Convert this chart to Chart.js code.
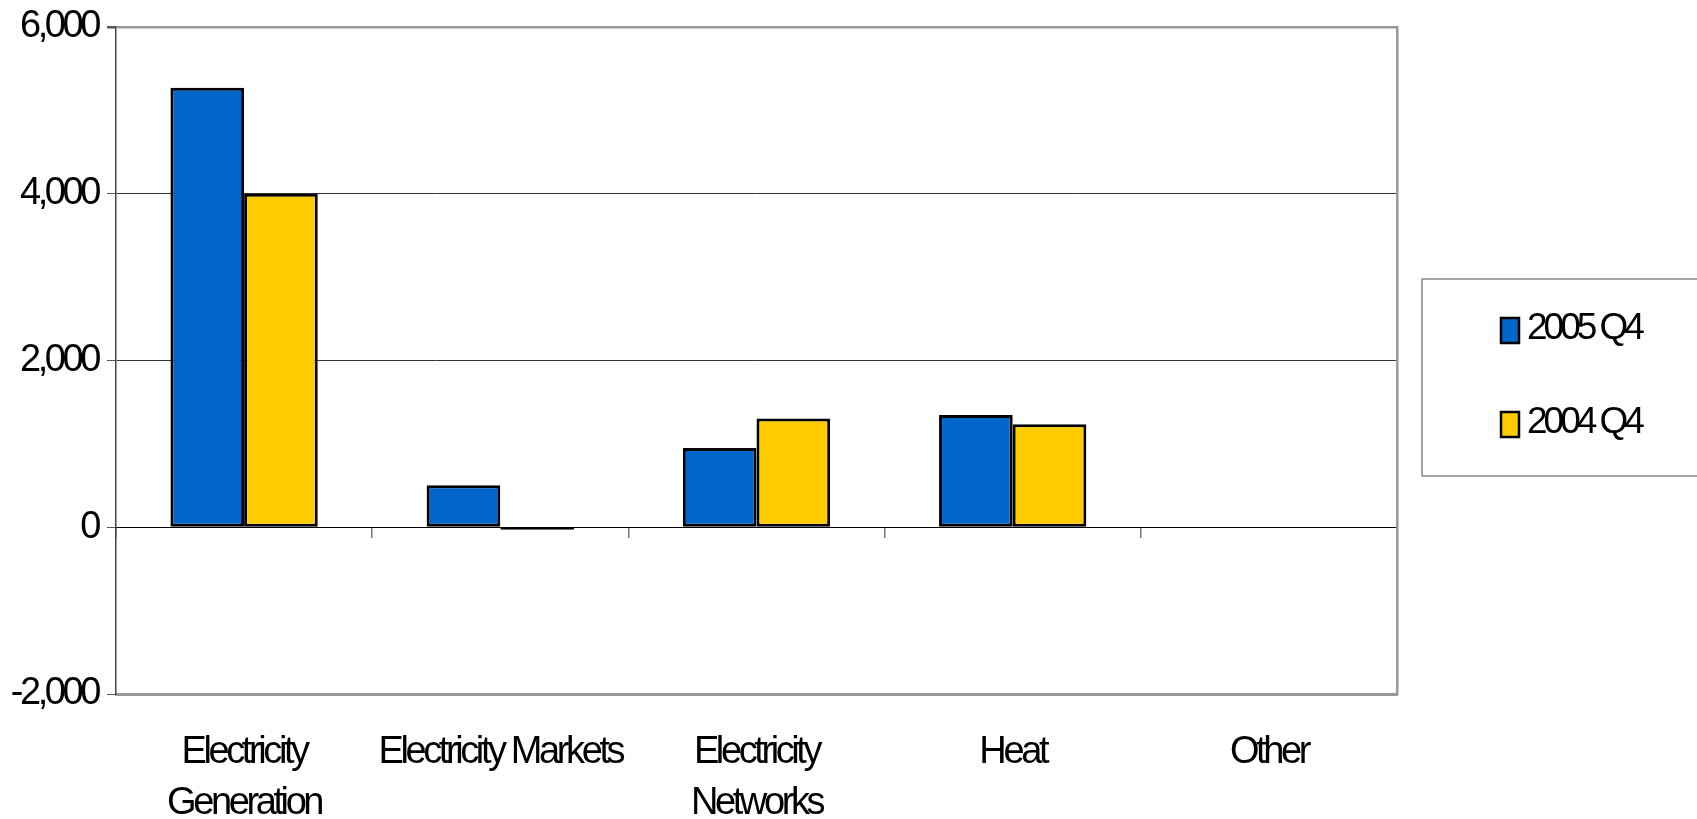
<!DOCTYPE html>
<html>
<head>
<meta charset="utf-8">
<script src="https://cdn.jsdelivr.net/npm/chart.js@4.4.1/dist/chart.umd.min.js"></script>
<style>
  html, body { margin: 0; padding: 0; background: #fff; }
  #wrap { width: 1697px; height: 819px; position: relative; }
</style>
</head>
<body>
<div id="wrap"><canvas id="c"></canvas></div>
<script>
// Business segments on the category axis
const categories = [
  ['Electricity', 'Generation'],
  'Electricity Markets',
  ['Electricity', 'Networks'],
  'Heat',
  'Other'
];
// Quarterly values per segment
const series2005Q4 = [5270, 505, 950, 1345, null];
const series2004Q4 = [4000, -30, 1305, 1235, null];
const seriesNames = ['2005 Q4', '2004 Q4'];
// Value axis ticks
const yTicks = [-2000, 0, 2000, 4000, 6000];

const FONT = 'Liberation Sans, Arial, sans-serif';
const SPACING = '-3.4px';
const BLUE = '#0066CC';
const GOLD = '#FFCC00';

// Condensed lettering for every piece of text on the canvas
const tightText = {
  id: 'tightText',
  beforeLayout(chart) { chart.ctx.letterSpacing = SPACING; },
  beforeDraw(chart) { chart.ctx.letterSpacing = SPACING; }
};

// Boxed legend to the right of the plot
const boxLegend = {
  id: 'boxLegend',
  afterDraw(chart) {
    const ctx = chart.ctx;
    const area = chart.chartArea;
    const x0 = area.right + 25;
    const y0 = area.top + 252;
    ctx.save();
    ctx.strokeStyle = '#888';
    ctx.lineWidth = 1.5;
    ctx.strokeRect(x0, y0, chart.width - x0 + 10, 197);
    ctx.font = '37px ' + FONT;
    ctx.letterSpacing = '-4px';
    ctx.textBaseline = 'alphabetic';
    chart.data.datasets.forEach((ds, i) => {
      const top = y0 + 39 + i * 94;
      ctx.fillStyle = ds.backgroundColor;
      ctx.fillRect(x0 + 79, top, 18, 25);
      ctx.strokeStyle = '#000';
      ctx.lineWidth = 2.5;
      ctx.strokeRect(x0 + 79, top, 18, 25);
      ctx.fillStyle = '#000';
      ctx.fillText(ds.label, x0 + 105, top + 21);
    });
    ctx.restore();
  }
};

new Chart(document.getElementById('c'), {
  type: 'bar',
  data: {
    labels: categories,
    datasets: [
      { label: seriesNames[0], data: series2005Q4, backgroundColor: BLUE },
      { label: seriesNames[1], data: series2004Q4, backgroundColor: GOLD }
    ]
  },
  options: {
    responsive: true,
    maintainAspectRatio: false,
    animation: false,
    layout: { padding: { top: 0, right: 300, left: 0, bottom: 0 } },
    datasets: {
      bar: {
        borderColor: '#000',
        borderWidth: 3,
        borderSkipped: false,
        categoryPercentage: 0.575,
        barPercentage: 1
      }
    },
    plugins: {
      legend: { display: false },
      tooltip: { enabled: false }
    },
    scales: {
      x: {
        type: 'category',
        position: 'bottom',
        offset: true,
        grid: { display: false, drawTicks: false },
        border: { display: true, color: '#999', width: 3 },
        ticks: {
          color: '#000',
          font: { family: FONT, size: 38, lineHeight: 1.34 },
          padding: 33,
          maxRotation: 0,
          autoSkip: false
        },
        afterFit(scale) { scale.height = 125; }
      },
      xZero: {
        type: 'category',
        axis: 'x',
        position: { y: 0 },
        offset: true,
        grid: {
          display: true,
          offset: true,
          drawOnChartArea: false,
          drawTicks: true,
          tickLength: 10,
          tickColor: '#777',
          lineWidth: 1.5
        },
        border: { display: true, color: '#000', width: 1 },
        ticks: { display: false }
      },
      y: {
        min: -2000,
        max: 6000,
        afterBuildTicks(scale) { scale.ticks = yTicks.map(v => ({ value: v })); },
        grid: {
          color: ctx => (ctx.tick && (ctx.tick.value === 6000 || ctx.tick.value === -2000)) ? '#999' : '#333',
          lineWidth: ctx => (ctx.tick && ctx.tick.value === 6000) ? 2.5 : 1,
          tickLength: 9,
          tickColor: '#555'
        },
        border: { display: true, color: '#444', width: 1.5 },
        ticks: {
          color: '#000',
          font: { family: FONT, size: 38 },
          padding: 9,
          callback: v => Number(v).toLocaleString('en-US')
        },
        afterFit(scale) {
          scale.width = 116;
          scale.paddingTop = 27;
        }
      },
      yRight: {
        position: 'right',
        min: -2000,
        max: 6000,
        grid: { display: false },
        border: { display: true, color: '#999', width: 2.5 },
        ticks: { display: false },
        afterFit(scale) { scale.width = 0; }
      }
    }
  },
  plugins: [tightText, boxLegend]
});
</script>
</body>
</html>
